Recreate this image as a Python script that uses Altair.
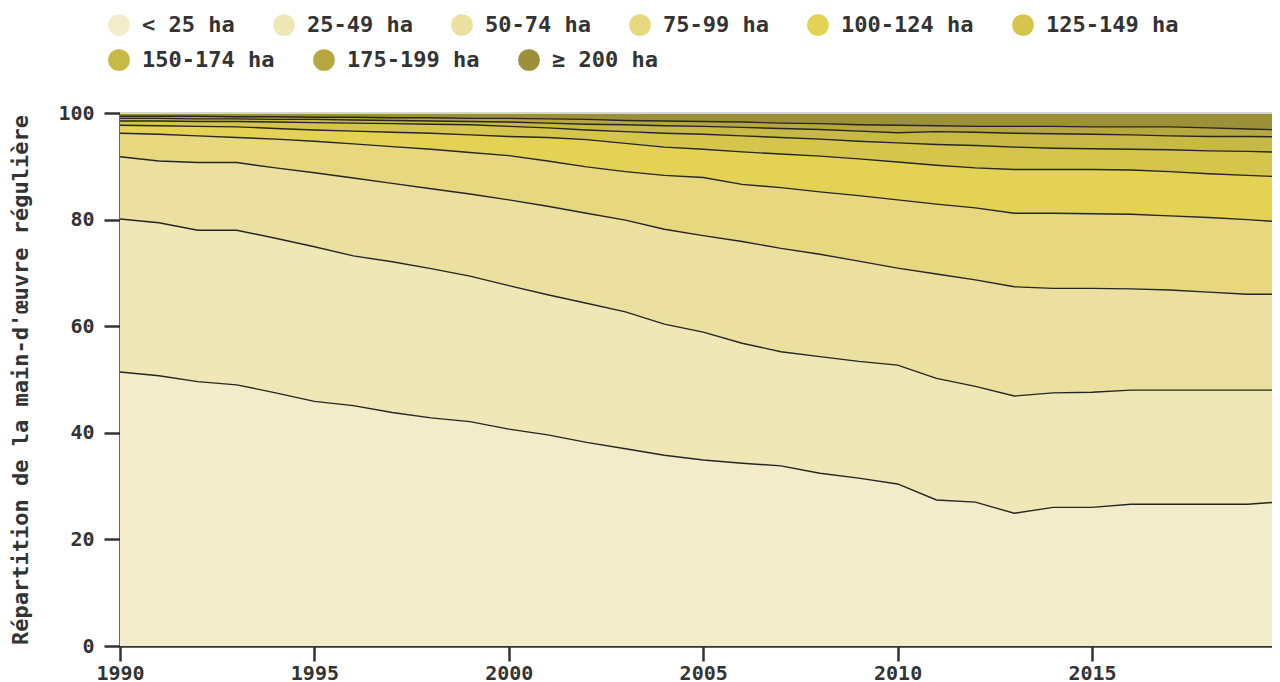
import altair as alt
import pandas as pd

years = list(range(1990, 2021))

classes = ["< 25 ha", "25-49 ha", "50-74 ha", "75-99 ha", "100-124 ha",
           "125-149 ha", "150-174 ha", "175-199 ha", "≥ 200 ha"]
colors = ["#f2ecca", "#efe7b5", "#ebe0a0", "#e7d87f", "#e3d253",
          "#d6c54d", "#c8b846", "#b6a740", "#9c9038"]

# cumulative upper edge of each class (share of regular labour, %)
top_lt25 = [51.4, 50.7, 49.6, 49.0, 47.5, 45.9, 45.1, 43.8, 42.8, 42.1, 40.7,
            39.6, 38.2, 37.0, 35.8, 34.9, 34.3, 33.8, 32.4, 31.5, 30.4,
            27.4, 27.0, 24.9, 26.0, 26.0, 26.6, 26.6, 26.6, 26.6, 27.1]
top_25_49 = [80.1, 79.4, 78.0, 78.0, 76.5, 74.9, 73.2, 72.1, 70.8, 69.4, 67.6,
             65.9, 64.3, 62.7, 60.4, 58.9, 56.8, 55.2, 54.3, 53.4, 52.7,
             50.2, 48.7, 46.9, 47.5, 47.6, 48.0, 48.0, 48.0, 48.0, 48.0]
top_50_74 = [91.8, 91.0, 90.7, 90.7, 89.7, 88.8, 87.8, 86.8, 85.8, 84.8, 83.7,
             82.5, 81.2, 79.9, 78.2, 77.0, 75.9, 74.6, 73.5, 72.2, 70.9,
             69.8, 68.7, 67.4, 67.1, 67.1, 67.0, 66.8, 66.4, 66.0, 66.0]
top_75_99 = [96.2, 96.0, 95.7, 95.4, 95.1, 94.7, 94.2, 93.7, 93.2, 92.6, 92.0,
             91.0, 89.9, 89.0, 88.3, 87.9, 86.6, 86.0, 85.2, 84.5, 83.7,
             82.9, 82.2, 81.2, 81.2, 81.1, 81.0, 80.7, 80.4, 80.0, 79.5]
top_100_124 = [97.7, 97.6, 97.5, 97.4, 97.1, 96.8, 96.6, 96.4, 96.2, 95.9, 95.6,
               95.4, 95.0, 94.3, 93.6, 93.2, 92.7, 92.3, 91.9, 91.4, 90.8,
               90.2, 89.7, 89.4, 89.4, 89.4, 89.3, 89.0, 88.6, 88.3, 88.0]
top_125_149 = [98.5, 98.5, 98.4, 98.4, 98.3, 98.2, 98.1, 98.0, 97.9, 97.8, 97.5,
               97.2, 96.8, 96.5, 96.2, 96.0, 95.7, 95.4, 95.1, 94.7, 94.4,
               94.1, 93.9, 93.6, 93.4, 93.3, 93.2, 93.1, 92.9, 92.8, 92.6]
top_150_174 = [99.0, 99.0, 98.9, 98.9, 98.8, 98.8, 98.7, 98.6, 98.5, 98.4, 98.3,
               98.1, 97.9, 97.8, 97.6, 97.5, 97.3, 97.1, 96.9, 96.6, 96.3,
               96.5, 96.4, 96.2, 96.1, 96.0, 95.9, 95.7, 95.6, 95.6, 95.5]
top_175_199 = [99.4, 99.4, 99.4, 99.3, 99.3, 99.2, 99.2, 99.1, 99.1, 99.0, 99.0,
               98.9, 98.8, 98.6, 98.5, 98.4, 98.3, 98.1, 98.0, 97.8, 97.7,
               97.6, 97.5, 97.5, 97.5, 97.4, 97.4, 97.4, 97.2, 97.0, 96.8]
top_ge200 = [100.0] * len(years)

tops = [top_lt25, top_25_49, top_50_74, top_75_99, top_100_124,
        top_125_149, top_150_174, top_175_199, top_ge200]

rows = []
for ci, (cls, upper) in enumerate(zip(classes, tops)):
    lower = tops[ci - 1] if ci > 0 else [0.0] * len(years)
    for yr, lo, up in zip(years, lower, upper):
        rows.append({"year": yr, "classe": cls, "order": ci,
                     "lower": lo, "upper": up})
df = pd.DataFrame(rows)

FONT = "DejaVu Sans Mono"


def legend_row(values, y):
    return alt.Legend(title=None, orient="none", legendX=-12, legendY=y,
                      direction="horizontal", values=values,
                      symbolType="circle", symbolSize=470,
                      symbolStrokeWidth=0, symbolOpacity=1,
                      labelFont=FONT, labelFontSize=22,
                      labelFontWeight="bold", labelColor="#333333",
                      labelOffset=12, columnPadding=38, labelLimit=300)


# the reference plot runs past the right edge of the window
x_enc = alt.X("year:Q",
              scale=alt.Scale(domain=[1990, 2019.63], nice=False, zero=False),
              axis=alt.Axis(values=list(range(1990, 2021, 5)), format="d",
                            title=None, grid=False, tickSize=15,
                            labelPadding=2, labelFlush=False))
y_enc = alt.Y("upper:Q", scale=alt.Scale(domain=[0, 100], nice=False),
              axis=alt.Axis(values=[0, 20, 40, 60, 80, 100], grid=False,
                            title="Répartition de la main-d'œuvre régulière",
                            tickSize=16, labelPadding=10, titlePadding=25))

base = alt.Chart(df).encode(x=x_enc, y=y_enc, y2="lower:Q",
                            order=alt.Order("order:Q"))

# second legend row (last three classes); same colour mapping, rotated domain
areas_b = base.mark_area(opacity=1, strokeWidth=0).encode(
    color=alt.Color("classe:N",
                    scale=alt.Scale(domain=classes[6:] + classes[:6],
                                    range=colors[6:] + colors[:6]),
                    legend=legend_row(classes[6:], -64)),
)
# first legend row (first six classes)
areas_a = base.mark_area(opacity=1, strokeWidth=0).encode(
    fill=alt.Fill("classe:N", scale=alt.Scale(domain=classes, range=colors),
                  legend=legend_row(classes[:6], -99)),
)

lines = alt.Chart(df).transform_filter(
    alt.datum.order < 8
).mark_line(color="#262626", strokeWidth=1.4).encode(
    x="year:Q",
    y="upper:Q",
    detail="classe:N",
)

top_rule = alt.Chart(df).transform_filter(
    alt.datum.order == 8
).mark_rule(color="#d6d6d6", strokeWidth=1).encode(
    y=alt.datum(100),
)

chart = alt.layer(areas_b, areas_a, lines, top_rule).properties(
    width=1152, height=533,
    autosize=alt.AutoSizeParams(type="none"),
    padding={"left": 112, "top": 105, "right": 0, "bottom": 40},
).resolve_scale(
    color="independent", fill="independent"
).configure_view(
    stroke=None
).configure_axis(
    labelFont=FONT, labelFontSize=20, labelFontWeight="bold",
    labelColor="#333333", titleFont=FONT, titleFontSize=22,
    titleFontWeight="bold", titleColor="#333333",
    domainColor="#333333", domainWidth=2.5, tickColor="#333333",
    tickWidth=2.5
)

chart.save("out.html", embed_options={"renderer": "svg", "actions": False})
